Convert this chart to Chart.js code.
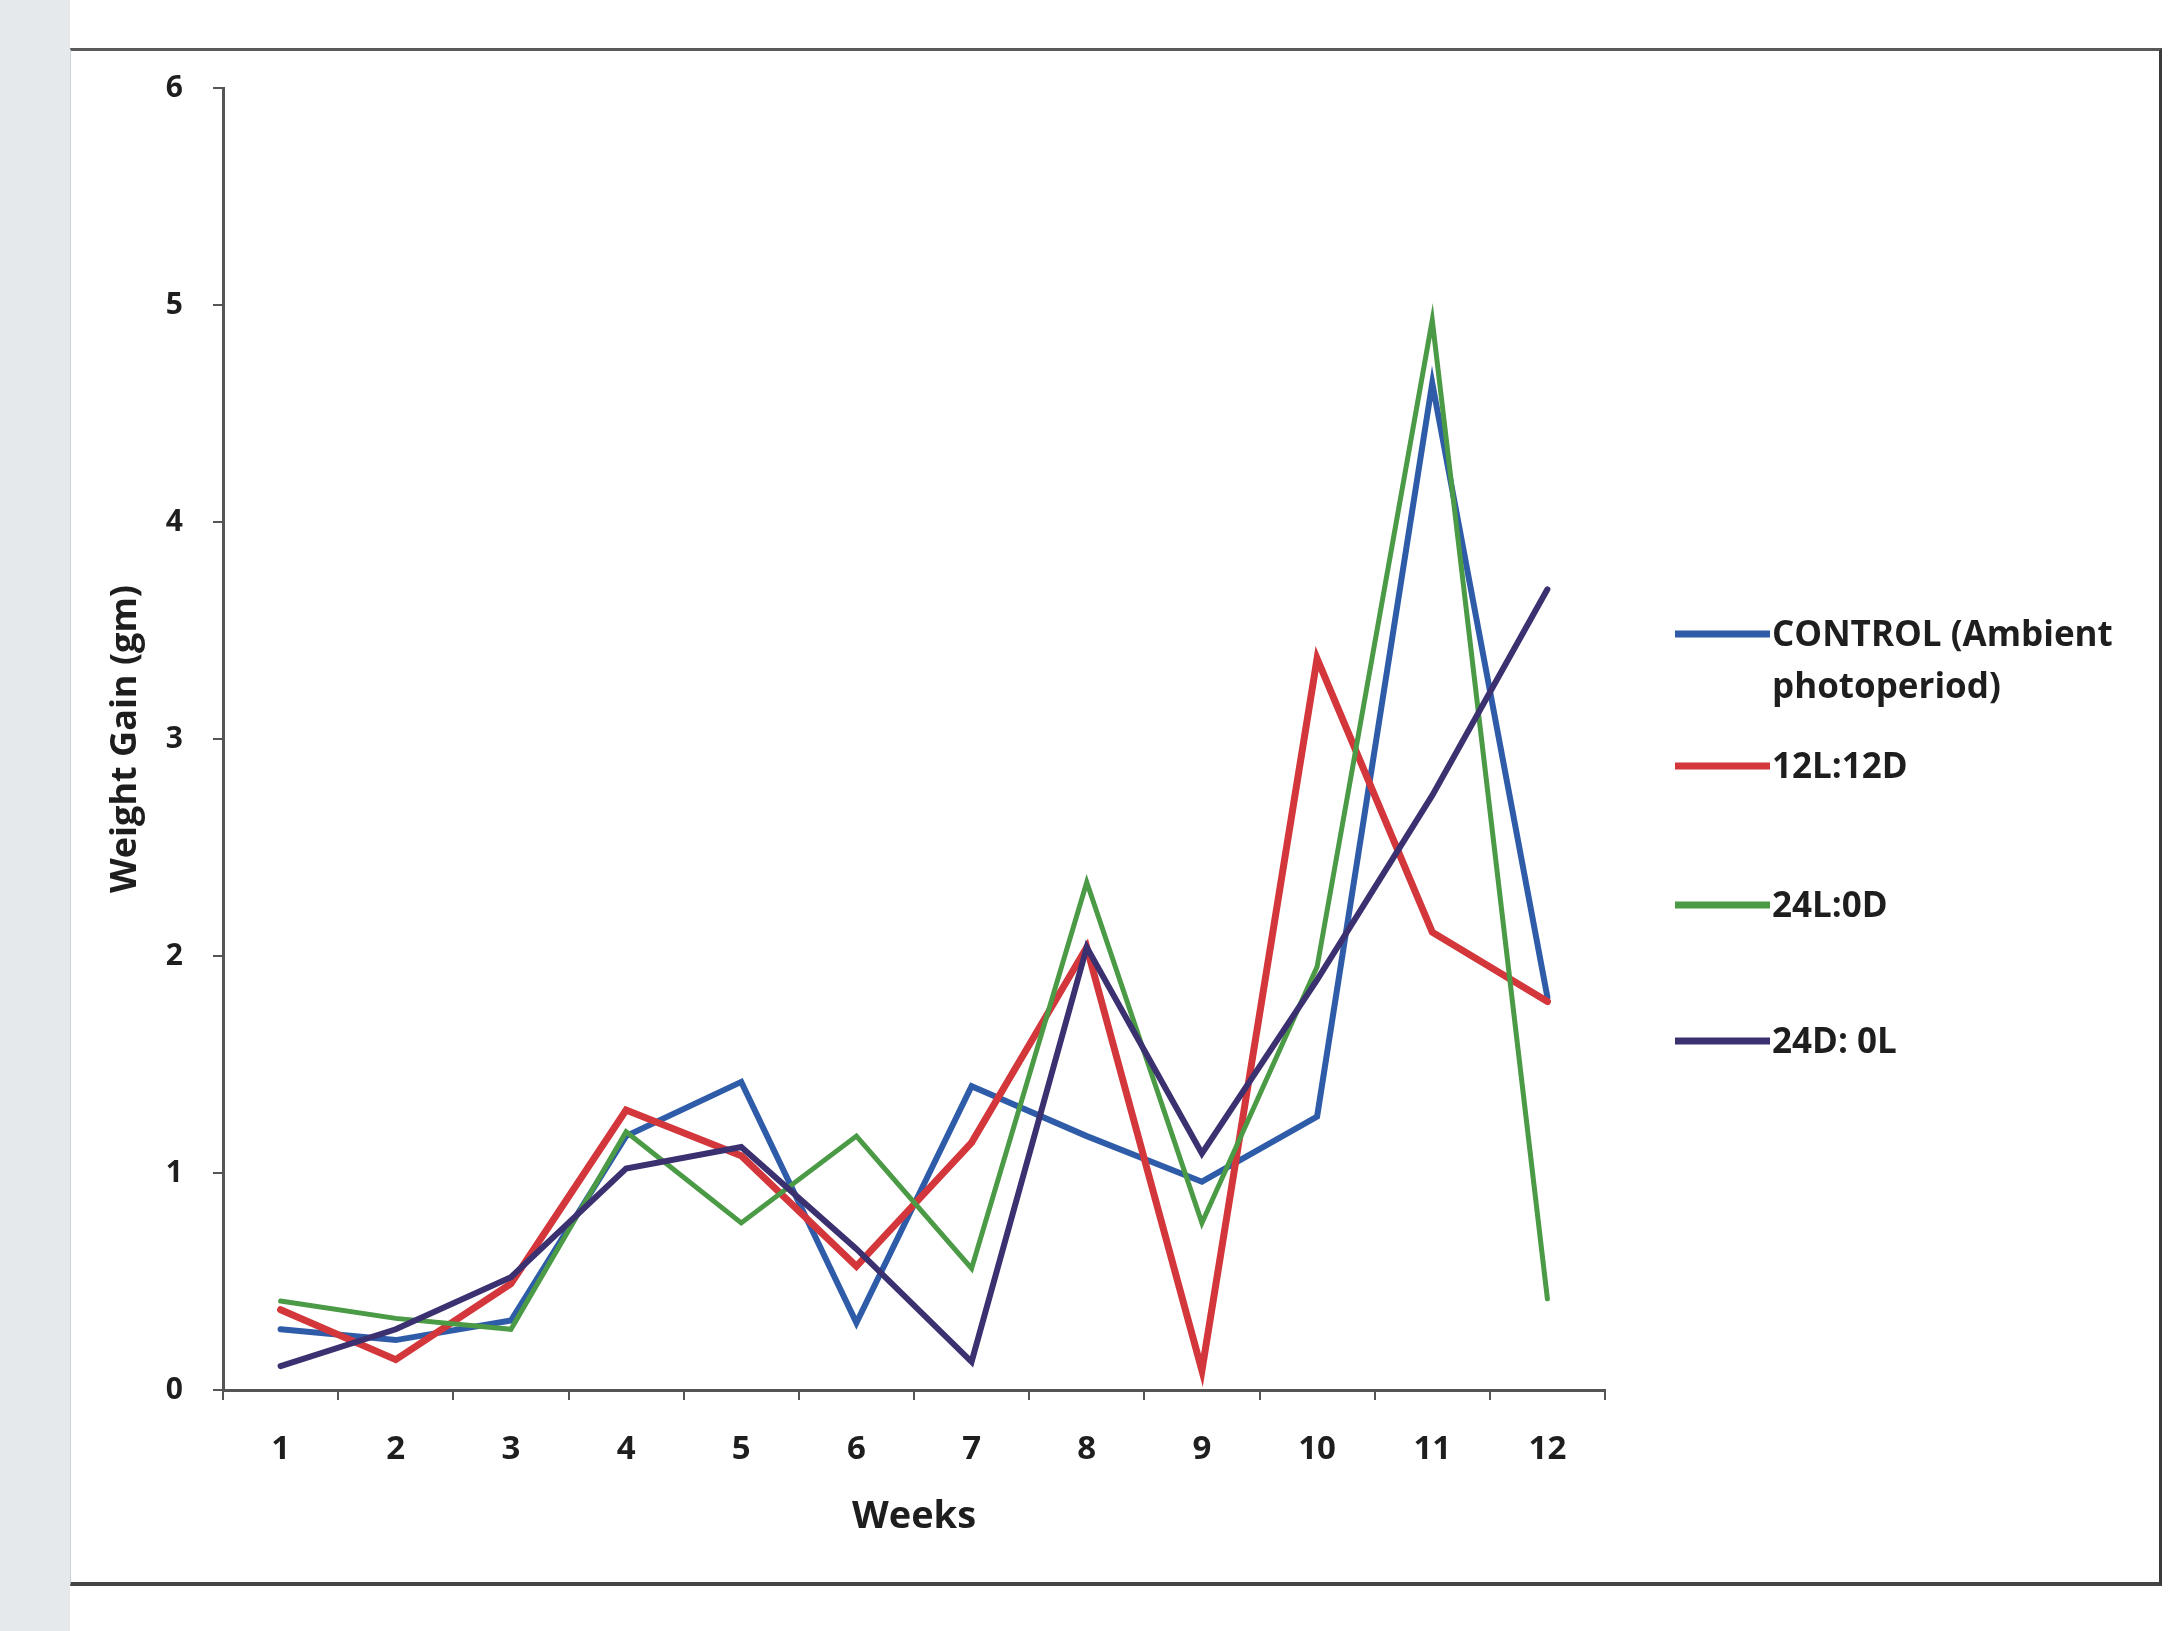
<!DOCTYPE html>
<html><head><meta charset="utf-8">
<script src="https://cdn.jsdelivr.net/npm/chart.js@4.4.1/dist/chart.umd.min.js"></script>
<style>
html,body{margin:0;padding:0;background:#fff;}
body{width:2183px;height:1631px;position:relative;overflow:hidden;}
#strip{position:absolute;left:0;top:0;width:70px;height:1631px;background:#e6e9ec;}
#frame{position:absolute;left:70px;top:48px;width:2092px;height:1538px;box-sizing:border-box;
  border-top:3px solid #5a5a5a;border-right:3px solid #3a3a3a;border-bottom:4px solid #444;border-left:1px solid #cfd3d6;}
canvas{position:absolute;left:0;top:0;}
</style></head><body>
<div id="strip"></div><div id="frame"></div>
<canvas id="c" width="2183" height="1631"></canvas>
<script>
// ---- data ----
const weeks = ['1','2','3','4','5','6','7','8','9','10','11','12'];
const seriesNames = ['CONTROL (Ambient photoperiod)', '12L:12D', '24L:0D', '24D: 0L'];
const control = [0.28, 0.23, 0.32, 1.17, 1.42, 0.31, 1.40, 1.17, 0.96, 1.26, 4.64, 1.81];
const l12d12  = [0.37, 0.14, 0.49, 1.29, 1.08, 0.57, 1.14, 2.04, 0.09, 3.37, 2.11, 1.79];
const l24d0   = [0.41, 0.33, 0.28, 1.19, 0.77, 1.17, 0.56, 2.34, 0.77, 1.95, 4.93, 0.42];
const d24l0   = [0.11, 0.28, 0.52, 1.02, 1.12, 0.65, 0.13, 2.04, 1.09, 1.89, 2.74, 3.69];
const yTicks  = [0, 1, 2, 3, 4, 5, 6];

const FONT = '"Open Sans", "DejaVu Sans", sans-serif';
const TEXT = '#1e1e1e';

// legend drawn at the right, using the chart's datasets
const sideLegend = {
  id: 'sideLegend',
  afterDraw(chart) {
    const ctx = chart.ctx;
    const ys = [634, 766, 905, 1041];
    const x0 = 1675, x1 = 1770, tx = 1772, maxW = 420, lh = 52;
    ctx.save();
    ctx.font = 'bold 35px ' + FONT;
    ctx.textBaseline = 'middle';
    ctx.textAlign = 'left';
    chart.data.datasets.forEach((ds, i) => {
      const y = ys[i];
      ctx.strokeStyle = ds.borderColor;
      ctx.lineWidth = 7;
      ctx.beginPath(); ctx.moveTo(x0, y); ctx.lineTo(x1, y); ctx.stroke();
      const words = ds.label.split(' ');
      const lines = []; let cur = '';
      words.forEach(w => {
        const t = cur ? cur + ' ' + w : w;
        if (ctx.measureText(t).width > maxW && cur) { lines.push(cur); cur = w; } else cur = t;
      });
      if (cur) lines.push(cur);
      ctx.fillStyle = TEXT;
      lines.forEach((ln, k) => ctx.fillText(ln, tx, y + 2 + k * lh));
    });
    ctx.restore();
  }
};

new Chart(document.getElementById('c'), {
  type: 'line',
  data: {
    labels: weeks,
    datasets: [
      { label: seriesNames[0], data: control, borderColor: '#2f5ca8', borderWidth: 6, order: 3 },
      { label: seriesNames[1], data: l12d12,  borderColor: '#d3373b', borderWidth: 7, order: 2 },
      { label: seriesNames[2], data: l24d0,   borderColor: '#4b9a45', borderWidth: 5, order: 1 },
      { label: seriesNames[3], data: d24l0,   borderColor: '#3b3170', borderWidth: 6, order: 0 }
    ]
  },
  options: {
    responsive: false,
    animation: false,
    layout: { padding: { left: 78, right: 578, top: 88, bottom: 91 } },
    plugins: { legend: { display: false }, tooltip: { enabled: false } },
    elements: { point: { radius: 0 }, line: { tension: 0, borderCapStyle: 'round', borderJoinStyle: 'miter' } },
    scales: {
      x: {
        type: 'category',
        offset: true,
        grid: { offset: true, drawOnChartArea: false, drawTicks: true, tickLength: 10, color: '#555', lineWidth: 2 },
        border: { display: true, color: '#555', width: 3 },
        ticks: { font: { family: FONT, weight: 'bold', size: 33 }, color: TEXT, padding: 30, maxRotation: 0, autoSkip: false },
        title: { display: true, text: 'Weeks', color: TEXT, font: { family: FONT, weight: 'bold', size: 38 }, padding: { top: 0, bottom: 0 } },
        afterFit(s) { s.height = 150; }
      },
      y: {
        min: 0, max: 6,
        afterBuildTicks(s) { s.ticks = yTicks.map(v => ({ value: v })); },
        grid: { drawOnChartArea: false, drawTicks: true, tickLength: 10, color: '#555', lineWidth: 2 },
        border: { display: true, color: '#555', width: 3 },
        ticks: { font: { family: FONT, weight: 'bold', size: 30 }, color: TEXT, padding: 30 },
        title: { display: true, text: 'Weight Gain (gm)', color: TEXT, font: { family: FONT, weight: 'bold', size: 36 }, padding: { top: 26, bottom: 0 } },
        afterFit(s) { s.width = 145; }
      }
    }
  },
  plugins: [sideLegend]
});
</script>
</body></html>
